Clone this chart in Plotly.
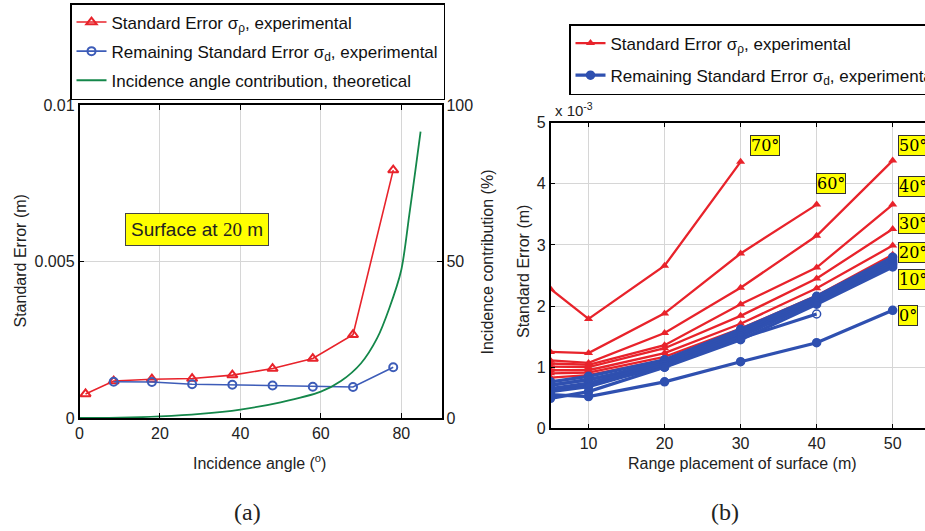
import plotly.graph_objects as go

# ---------------- Panel (a): surface at 20 m ----------------
angle_rho = [1.5, 8.5, 18, 28, 38, 48, 58, 68, 78]
sigma_rho_a = [0.00077, 0.00118, 0.00124, 0.00126, 0.00137, 0.00158, 0.00190, 0.00266, 0.00792]
angle_d = [8.5, 18, 28, 38, 48, 58, 68, 78]
sigma_d_a = [0.00116, 0.00115, 0.00108, 0.00106, 0.00104, 0.00100, 0.00099, 0.00162]
angle_theory = [0, 10, 20, 30, 40, 50, 60, 65, 70, 74, 77, 80, 82, 83.5, 84.8]
contrib_pct = [0, 0.1, 0.5, 1.3, 2.7, 5.0, 8.4, 11.8, 17.5, 25.5, 35.0, 47.3, 65.0, 79.0, 91.5]

# ---------------- Panel (b): error vs range (values x 10^-3 m) ----------------
ranges = [5, 10, 20, 30, 40, 50]
angles_deg = [70, 60, 50, 40, 30, 20, 10, 0]
red_70 = [2.28, 1.79, 2.66, 4.36]
red_60 = [1.25, 1.23, 1.88, 2.86, 3.66]
red_50 = [1.11, 1.07, 1.56, 2.30, 3.15, 4.38]
red_40 = [1.06, 1.04, 1.36, 2.03, 2.63, 3.66]
red_30 = [1.01, 1.00, 1.31, 1.84, 2.45, 3.26]
red_20 = [0.95, 0.95, 1.23, 1.71, 2.29, 2.99]
red_10 = [0.90, 0.91, 1.17, 1.63, 2.17, 2.84]
red_0 = [0.83, 0.87, 1.12, 1.58, 2.10, 2.76]
blue_70 = [0.62, 0.72, 1.00, 1.55]
blue_60 = [0.70, 0.80, 1.04, 1.47, 1.87]
blue_50 = [0.76, 0.85, 1.12, 1.62, 2.16, 2.80]
blue_40 = [0.71, 0.79, 1.09, 1.58, 2.13, 2.75]
blue_30 = [0.65, 0.74, 1.06, 1.54, 2.10, 2.71]
blue_20 = [0.60, 0.68, 1.03, 1.50, 2.07, 2.68]
blue_10 = [0.49, 0.60, 1.00, 1.45, 2.03, 2.64]
blue_0 = [0.55, 0.52, 0.76, 1.09, 1.40, 1.93]
red_series = [red_70, red_60, red_50, red_40, red_30, red_20, red_10, red_0]
blue_series = [blue_70, blue_60, blue_50, blue_40, blue_30, blue_20, blue_10, blue_0]

label_text = ["70°", "60°", "50°", "40°", "30°", "20°", "10°", "0°"]
label_x = [31.2, 39.9, 50.7, 50.7, 50.7, 50.7, 50.7, 50.7]
label_y = [4.63, 4.01, 4.63, 3.95, 3.35, 2.87, 2.44, 1.85]

RED = "#e8232b"
BLUE_A = "#3d5cb8"
BLUE_B = "#2f50b0"
GREEN = "#14874a"
SANS = "Liberation Sans, Arial, sans-serif"
SERIF = "Liberation Serif, Times New Roman, serif"
GRID = "#d6d6d6"

def px(x):
    return x / 925.0

def py(y):
    return 1 - y / 531.0

fig = go.Figure()

# ---- panel (a) traces ----
fig.add_trace(go.Scatter(
    x=angle_rho, y=sigma_rho_a, mode="lines+markers", xaxis="x", yaxis="y",
    name="Standard Error σ<sub>ρ</sub>, experimental",
    line=dict(color=RED, width=1.6),
    marker=dict(symbol="triangle-up-open", size=9, color=RED, line=dict(width=2)),
    legend="legend", legendgroup="a1"))
fig.add_trace(go.Scatter(
    x=angle_d, y=sigma_d_a, mode="lines+markers", xaxis="x", yaxis="y",
    name="Remaining Standard Error σ<sub>d</sub>, experimental",
    line=dict(color=BLUE_A, width=1.6),
    marker=dict(symbol="circle-open", size=8, color=BLUE_A, line=dict(width=2)),
    legend="legend", legendgroup="a2"))
fig.add_trace(go.Scatter(
    x=angle_theory, y=contrib_pct, mode="lines", xaxis="x", yaxis="y2",
    name="Incidence angle contribution, theoretical",
    line=dict(color=GREEN, width=1.8, shape="spline", smoothing=0.8),
    legend="legend", legendgroup="a3"))

# ---- panel (b) traces ----
for i, ys in enumerate(red_series):
    fig.add_trace(go.Scatter(
        x=ranges[:len(ys)], y=ys, mode="lines+markers", xaxis="x2", yaxis="y3",
        name="Standard Error σ<sub>ρ</sub>, experimental",
        line=dict(color=RED, width=2.3),
        marker=dict(symbol="triangle-up", size=8, color=RED),
        showlegend=(i == 0), legend="legend2", legendgroup="b1"))
for i, ys in enumerate(blue_series):
    syms = ["circle"] * len(ys)
    if len(ys) == 5:
        syms[-1] = "circle-open"
    fig.add_trace(go.Scatter(
        x=ranges[:len(ys)], y=ys, mode="lines+markers", xaxis="x2", yaxis="y3",
        name="Remaining Standard Error σ<sub>d</sub>, experimental",
        line=dict(color=BLUE_B, width=3.2),
        marker=dict(symbol=syms, size=8, color=BLUE_B, line=dict(width=1.5, color=BLUE_B)),
        showlegend=(i == 0), legend="legend2", legendgroup="b2"))

tickfont = dict(family=SANS, size=16, color="#222")
axis_common = dict(showline=True, linecolor="black", linewidth=1.5, ticks="inside",
                   ticklen=5, tickcolor="black", tickfont=tickfont, zeroline=False,
                   gridcolor=GRID, gridwidth=1)

annotations = []
for t, x, y in zip(label_text, label_x, label_y):
    annotations.append(dict(
        x=x, y=y, xref="x2", yref="y3", text=t, showarrow=False,
        xanchor="left", yanchor="middle",
        font=dict(family="DejaVu Serif, serif", size=16, color="black"),
        bgcolor="#ffff00", bordercolor="#333", borderwidth=1, borderpad=0))


def paper_text(x, y, text, size=16, family=SANS, angle=0, xanchor="center", **kw):
    return dict(x=px(x), y=py(y), xref="paper", yref="paper", showarrow=False,
                xanchor=xanchor, yanchor="middle", text=text, textangle=angle,
                font=dict(family=family, size=size, color="#222"), **kw)


annotations += [
    paper_text(196.5, 229.5,
               "Surface at <span style='font-family:Liberation Serif'>20</span> m",
               size=19, bgcolor="#ffff00", bordercolor="#444", borderwidth=1, borderpad=5),
    paper_text(20, 261.5, "Standard Error (m)", angle=-90),
    paper_text(487, 261.5, "Incidence contribution (%)", angle=-90),
    paper_text(259, 462, "Incidence angle (<sup>o</sup>)"),
    paper_text(523, 272, "Standard Error (m)", angle=-90),
    paper_text(742, 463, "Range placement of surface (m)"),
    paper_text(553, 110, "x 10<sup>-3</sup>", size=15, xanchor="left"),
    paper_text(247, 512, "(a)", size=24, family=SERIF),
    paper_text(725, 512, "(b)", size=24, family=SERIF),
]

fig.update_layout(
    width=925, height=531,
    margin=dict(l=0, r=0, t=0, b=0, autoexpand=False),
    paper_bgcolor="white", plot_bgcolor="white",
    font=dict(family=SANS, size=16, color="#222"),
    xaxis=dict(domain=[px(79.5), px(441.5)], range=[0, 90], anchor="y",
               tickvals=[0, 20, 40, 60, 80], showgrid=True, mirror="ticks", **axis_common),
    yaxis=dict(domain=[py(418), py(105)], range=[0, 0.01], anchor="x",
               tickvals=[0, 0.005, 0.01], ticktext=["0", "0.005", "0.01"],
               showgrid=True, mirror=True, **axis_common),
    yaxis2=dict(overlaying="y", side="right", range=[0, 100], anchor="x",
                tickvals=[0, 50, 100], showgrid=False, **axis_common),
    xaxis2=dict(domain=[px(550.5), 1.0], range=[5, 54.25], anchor="y3",
                tickvals=[10, 20, 30, 40, 50], showgrid=True, mirror="ticks", **axis_common),
    yaxis3=dict(domain=[py(428.3), py(122.7)], range=[0, 5], anchor="x2",
                tickvals=[0, 1, 2, 3, 4, 5], showgrid=True, mirror=False, **axis_common),
    legend=dict(x=px(70), y=py(3), xanchor="left", yanchor="top",
                bgcolor="white", bordercolor="black", borderwidth=1.5,
                font=dict(family=SANS, size=17, color="#111"),
                traceorder="grouped", tracegroupgap=4, itemwidth=30),
    legend2=dict(x=px(569), y=py(24), xanchor="left", yanchor="top",
                 bgcolor="white", bordercolor="black", borderwidth=1.5,
                 font=dict(family=SANS, size=17, color="#111"),
                 traceorder="grouped", tracegroupgap=7, itemwidth=30),
    annotations=annotations,
    showlegend=True,
)

fig.write_html("out.html", config={"displayModeBar": False},
               post_script="document.body.style.margin='0px';document.body.style.overflow='hidden';")
